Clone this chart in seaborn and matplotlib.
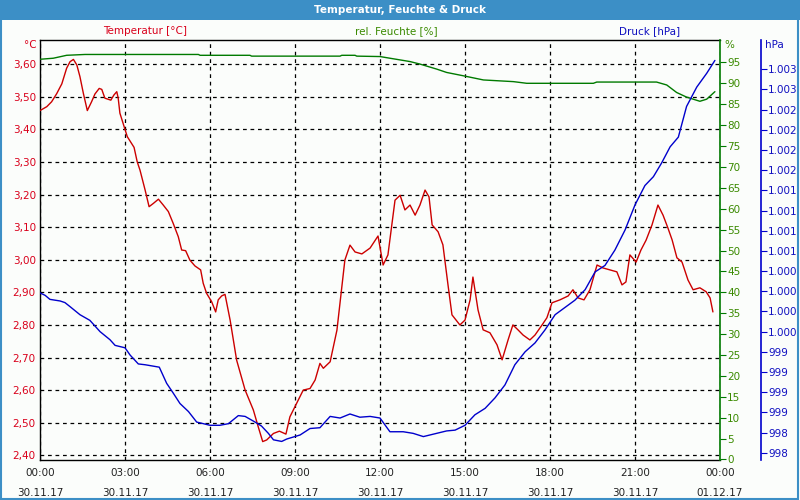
import numpy as np
import pandas as pd
import matplotlib
matplotlib.use("Agg")
import matplotlib.pyplot as plt
import seaborn as sns
from matplotlib.ticker import FixedLocator, FuncFormatter, MultipleLocator
from matplotlib.patches import Rectangle

# ---------------- data (hours since 30.11.17 00:00) ----------------
temp_hours = [0.00, 0.24, 0.41, 0.59, 0.77, 0.94, 1.06, 1.18, 1.30, 1.41, 1.53, 1.67, 1.82, 1.94,
              2.09, 2.18, 2.29, 2.50, 2.61, 2.71, 2.76, 2.82, 3.00, 3.08, 3.32, 3.43, 3.53, 3.71,
              3.85, 4.00, 4.18, 4.35, 4.53, 4.70, 4.88, 5.00, 5.14, 5.29, 5.47, 5.67, 5.76, 5.88,
              6.06, 6.20, 6.29, 6.41, 6.53, 6.71, 6.94, 7.24, 7.53, 7.70, 7.86, 8.00, 8.24, 8.45,
              8.68, 8.82, 9.06, 9.29, 9.53, 9.71, 9.88, 10.00, 10.24, 10.48, 10.76, 10.94, 11.12,
              11.36, 11.65, 11.93, 12.11, 12.28, 12.53, 12.71, 12.88, 13.06, 13.24, 13.41, 13.59,
              13.73, 13.84, 14.05, 14.22, 14.40, 14.54, 14.82, 15.00, 15.18, 15.28, 15.46, 15.64,
              15.88, 16.13, 16.31, 16.52, 16.69, 16.87, 17.05, 17.29, 17.47, 17.72, 17.89, 18.07,
              18.35, 18.64, 18.81, 18.99, 19.20, 19.41, 19.66, 19.87, 20.12, 20.36, 20.54, 20.68,
              20.82, 21.04, 21.21, 21.39, 21.60, 21.81, 21.99, 22.16, 22.31, 22.48, 22.66, 22.87,
              23.05, 23.29, 23.51, 23.65, 23.75]
temp_values = [3.458, 3.470, 3.485, 3.510, 3.540, 3.588, 3.608, 3.615, 3.598, 3.562, 3.511, 3.458,
               3.485, 3.509, 3.526, 3.523, 3.496, 3.490, 3.506, 3.516, 3.496, 3.450, 3.400, 3.378,
               3.345, 3.301, 3.275, 3.214, 3.163, 3.173, 3.186, 3.168, 3.148, 3.112, 3.071, 3.030,
               3.028, 2.999, 2.981, 2.969, 2.928, 2.897, 2.871, 2.840, 2.877, 2.889, 2.894, 2.815,
               2.692, 2.600, 2.539, 2.488, 2.442, 2.447, 2.467, 2.474, 2.465, 2.518, 2.560, 2.600,
               2.605, 2.631, 2.682, 2.667, 2.687, 2.784, 2.999, 3.045, 3.024, 3.018, 3.036, 3.073,
               2.984, 3.015, 3.183, 3.198, 3.153, 3.168, 3.137, 3.168, 3.214, 3.193, 3.107, 3.086,
               3.046, 2.923, 2.831, 2.800, 2.815, 2.877, 2.947, 2.846, 2.785, 2.776, 2.739, 2.693,
               2.754, 2.800, 2.785, 2.769, 2.754, 2.769, 2.800, 2.822, 2.868, 2.877, 2.889, 2.908,
               2.883, 2.877, 2.908, 2.984, 2.975, 2.969, 2.963, 2.923, 2.932, 3.015, 2.993, 3.030,
               3.060, 3.107, 3.168, 3.137, 3.098, 3.061, 3.006, 2.993, 2.938, 2.908, 2.914, 2.902,
               2.883, 2.840]

hum_hours = [0.00, 0.47, 0.94, 1.59, 5.59, 5.65, 7.41, 7.47, 10.59, 10.65, 11.12, 11.18, 12.00,
             12.35, 13.06, 13.41, 14.00, 14.35, 14.94, 15.65, 16.71, 17.18, 19.53, 19.65, 21.76,
             22.12, 22.47, 22.82, 23.29, 23.53, 23.82]
hum_values = [95.75, 96.0, 96.7, 96.9, 96.9, 96.7, 96.7, 96.5, 96.5, 96.7, 96.7, 96.5, 96.4,
              96.0, 95.2, 94.6, 93.4, 92.6, 91.8, 90.8, 90.4, 90.0, 90.0, 90.3, 90.3,
              89.6, 87.8, 86.7, 85.7, 86.2, 88.0]

press_hours = [0.00, 0.18, 0.35, 0.53, 0.71, 0.88, 1.06, 1.41, 1.76, 2.12, 2.47, 2.65, 3.00,
               3.18, 3.47, 3.71, 4.21, 4.47, 4.70, 4.94, 5.24, 5.53, 6.00, 6.35, 6.65, 7.00,
               7.24, 7.59, 7.82, 8.06, 8.24, 8.53, 8.71, 9.18, 9.53, 9.88, 10.24, 10.59, 10.94,
               11.29, 11.65, 12.00, 12.35, 12.82, 13.17, 13.53, 13.88, 14.35, 14.65, 15.00, 15.35,
               15.71, 16.06, 16.41, 16.76, 17.12, 17.47, 17.82, 18.18, 18.53, 18.88, 19.24, 19.59,
               19.94, 20.29, 20.65, 21.00, 21.35, 21.65, 21.94, 22.24, 22.53, 22.82, 23.18, 23.53,
               23.82]
press_values = [999.98, 999.95, 999.90, 999.89, 999.88, 999.86, 999.81, 999.71, 999.64, 999.50,
                999.40, 999.33, 999.30, 999.21, 999.10, 999.09, 999.06, 998.86, 998.74, 998.61,
                998.51, 998.38, 998.34, 998.34, 998.36, 998.46, 998.45, 998.38, 998.33, 998.24,
                998.16, 998.14, 998.17, 998.22, 998.30, 998.31, 998.45, 998.43, 998.48, 998.44,
                998.45, 998.43, 998.26, 998.26, 998.24, 998.20, 998.23, 998.27, 998.28, 998.34,
                998.47, 998.55, 998.68, 998.84, 999.09, 999.25, 999.36, 999.52, 999.71, 999.80,
                999.89, 1000.02, 1000.24, 1000.32, 1000.51, 1000.76, 1001.07, 1001.31, 1001.42,
                1001.59, 1001.79, 1001.91, 1002.29, 1002.53, 1002.70, 1002.86]

x_tick_hours = [0, 3, 6, 9, 12, 15, 18, 21, 24]
x_tick_labels = ["00:00\n30.11.17", "03:00\n30.11.17", "06:00\n30.11.17", "09:00\n30.11.17",
                 "12:00\n30.11.17", "15:00\n30.11.17", "18:00\n30.11.17", "21:00\n30.11.17",
                 "00:00\n01.12.17"]

title = "Temperatur, Feuchte & Druck"
temp_label, hum_label, press_label = "Temperatur [°C]", "rel. Feuchte [%]", "Druck [hPa]"

# ---------------- styling ----------------
sns.set_style("white")
plt.rcParams['font.family'] = ['DejaVu Sans']
plt.rcParams['font.size'] = 7.5

BG = "#fbfdfb"
BAR = "#3c8fc6"
RED_L, RED_T = "#cc0000", "#d9001b"
GRN_L, GRN_T = "#007a00", "#3a8a00"
BLU_L, BLU_T = "#0000cc", "#1010c0"

W, H = 800, 500
fig = plt.figure(figsize=(8, 5), dpi=100, facecolor=BG)

def fx(px): return px / W
def fy(py): return 1 - py / H

ax = fig.add_axes([fx(40), fy(460), fx(680), 420 / H])
ax.set_facecolor(BG)

df_t = pd.DataFrame({"h": temp_hours, "v": temp_values})
df_h = pd.DataFrame({"h": hum_hours, "v": hum_values})
df_p = pd.DataFrame({"h": press_hours, "v": press_values})

sns.lineplot(data=df_t, x="h", y="v", ax=ax, color=RED_L, lw=1.0, estimator=None, zorder=3)
ax.set_xlim(0, 24)
ax.set_ylim(2.3855, 3.6746)
ax.set_xlabel("")
ax.set_ylabel("")
ax.yaxis.set_major_locator(FixedLocator(np.round(np.arange(2.4, 3.61, 0.1), 2)))
ax.yaxis.set_major_formatter(FuncFormatter(lambda v, p: f"{v:.2f}".replace(".", ",")))
ax.xaxis.set_major_locator(FixedLocator(x_tick_hours))
ax.set_xticklabels(x_tick_labels, linespacing=2.15)
ax.xaxis.set_minor_locator(MultipleLocator(1))
ax.tick_params(axis="y", length=0, pad=3, labelcolor=RED_T, labelsize=7.5)
ax.tick_params(axis="x", which="both", length=4, width=0.8, direction="out", color="black",
               pad=2, labelsize=7.5, labelcolor="#222222")
ax.grid(True, axis="both", color="black", linestyle=(0, (3, 3)), linewidth=0.9)
for s in ["left", "bottom", "top"]:
    ax.spines[s].set_color("black")
    ax.spines[s].set_linewidth(1.0)
ax.spines["right"].set_visible(False)

# humidity axis
ax2 = ax.twinx()
sns.lineplot(data=df_h, x="h", y="v", ax=ax2, color=GRN_L, lw=1.0, estimator=None)
ax2.set_ylim(-0.12, 100.36)
ax2.set_xlim(0, 24)
ax2.set_ylabel("")
ax2.yaxis.set_major_locator(FixedLocator(np.arange(0, 96, 5)))
ax2.tick_params(axis="y", length=4, width=0.8, color=GRN_L, labelcolor=GRN_T, pad=1, labelsize=7.5)
for s in ["left", "bottom", "top"]:
    ax2.spines[s].set_visible(False)
ax2.spines["right"].set_color(GRN_L)
ax2.spines["right"].set_linewidth(1.2)
ax2.grid(False)

# pressure axis
ax3 = ax.twinx()
sns.lineplot(data=df_p, x="h", y="v", ax=ax3, color=BLU_L, lw=1.0, estimator=None)
ax3.set_ylim(997.91, 1003.113)
ax3.set_xlim(0, 24)
ax3.set_ylabel("")
ax3.spines["right"].set_position(("axes", 1.0603))
ax3.yaxis.set_major_locator(FixedLocator(np.arange(998.0, 1002.76, 0.25)))

def press_fmt(v, p):
    n = int(np.floor(v + 0.5))
    s = f"{n:,}".replace(",", ".")
    return s
ax3.yaxis.set_major_formatter(FuncFormatter(press_fmt))
ax3.tick_params(axis="y", length=4, width=0.8, color=BLU_L, labelcolor=BLU_T, pad=1, labelsize=7.5)
for s in ["left", "bottom", "top"]:
    ax3.spines[s].set_visible(False)
ax3.spines["right"].set_color(BLU_L)
ax3.spines["right"].set_linewidth(1.2)
ax3.grid(False)

# title bar and frame
fig.patches.append(Rectangle((0, fy(20)), 1, 20 / H, transform=fig.transFigure,
                             facecolor=BAR, edgecolor="none", zorder=0))
fig.patches.append(Rectangle((0.001, 0.003), 0.997, 0.99, transform=fig.transFigure,
                             facecolor="none", edgecolor=BAR, lw=1.5, zorder=0))
fig.text(0.5, fy(10), title, color="white", fontweight="bold", ha="center", va="center", fontsize=7.5)

# series headers
fig.text(fx(145), fy(31), temp_label, color=RED_T, ha="center", va="center", fontsize=7.5)
fig.text(fx(396), fy(31), hum_label, color=GRN_T, ha="center", va="center", fontsize=7.5)
fig.text(fx(650), fy(31), press_label, color=BLU_T, ha="center", va="center", fontsize=7.5)

# unit labels
fig.text(fx(37), fy(45), "°C", color=RED_T, ha="right", va="center", fontsize=7.5)
fig.text(fx(724), fy(45), "%", color=GRN_T, ha="left", va="center", fontsize=7.5)
fig.text(fx(765), fy(45), "hPa", color=BLU_T, ha="left", va="center", fontsize=7.5)

fig.savefig("out.png", dpi=100, facecolor=BG)
